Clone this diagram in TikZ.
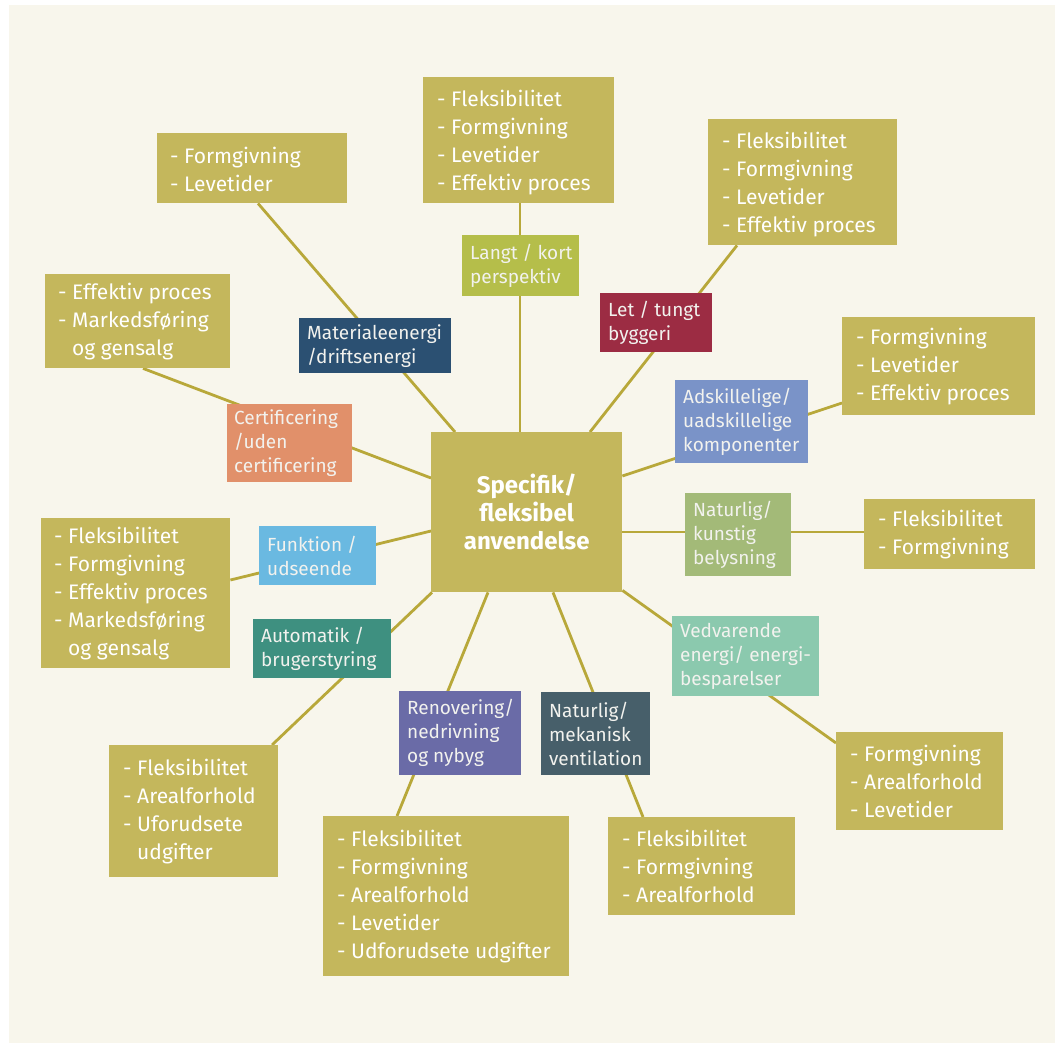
\documentclass[tikz,border=0pt]{standalone}
\usepackage{fontspec}
\setmainfont{Fira Sans}
\usetikzlibrary{backgrounds}
\definecolor{cream}{HTML}{F8F6EC}
\definecolor{olive}{HTML}{C4B75C}
\definecolor{lineol}{HTML}{B8A83A}
\definecolor{cLangt}{HTML}{B5BE4A}
\definecolor{cMat}{HTML}{2B5072}
\definecolor{cLet}{HTML}{9C2C43}
\definecolor{cAds}{HTML}{7A93C8}
\definecolor{cCert}{HTML}{E1906A}
\definecolor{cFunk}{HTML}{6AB9E1}
\definecolor{cBely}{HTML}{A3BA78}
\definecolor{cVed}{HTML}{8BC9AE}
\definecolor{cAuto}{HTML}{3E9080}
\definecolor{cReno}{HTML}{6A6BA7}
\definecolor{cVent}{HTML}{475F6A}
\definecolor{ltxt}{HTML}{F2F2EE}
\begin{document}
\begin{tikzpicture}[x=1pt,y=-1pt,
  obox/.style={fill=olive, draw=none, anchor=north west, inner sep=0pt},
  lbox/.style={draw=none, anchor=north west, inner sep=0pt},
  otxt/.style={anchor=west, align=left, text=white, inner sep=0pt, font=\fontsize{21}{28}\selectfont},
  ltx/.style={anchor=west, align=left, text=ltxt, inner sep=0pt, font=\fontsize{19}{24}\selectfont},
  conn/.style={draw=lineol, line width=2.8pt}]
\useasboundingbox (0,0) rectangle (1055,1043);

% center
\node[obox, minimum width=191pt, minimum height=160pt, font=\bfseries\fontsize{24}{28}\selectfont, text=white, align=center] (ctr) at (431,432) {Specifik/\\fleksibel\\anvendelse};

% outer boxes
\node[obox, minimum width=190pt, minimum height=70pt] (b1) at (157,133) {};
\node[otxt] (b1t) at ([xshift=13pt,yshift=-1pt]b1.west) {- Formgivning\\- Levetider};
\node[obox, minimum width=191pt, minimum height=126pt] (b2) at (423,77) {};
\node[otxt] (b2t) at ([xshift=14pt,yshift=-2pt]b2.west) {- Fleksibilitet\\- Formgivning\\- Levetider\\- Effektiv proces};
\node[obox, minimum width=189pt, minimum height=126pt] (b3) at (708,119) {};
\node[otxt] (b3t) at ([xshift=14pt,yshift=-2pt]b3.west) {- Fleksibilitet\\- Formgivning\\- Levetider\\- Effektiv proces};
\node[obox, minimum width=185pt, minimum height=94pt] (b4) at (45,274) {};
\node[otxt] (b4t) at ([xshift=13pt]b4.west) {- Effektiv proces\\- Markedsføring\\\hphantom{- }og gensalg};
\node[obox, minimum width=193pt, minimum height=98pt] (b5) at (842,317) {};
\node[otxt] (b5t) at ([xshift=14pt]b5.west) {- Formgivning\\- Levetider\\- Effektiv proces};
\node[obox, minimum width=189pt, minimum height=150pt] (b6) at (41,518) {};
\node[otxt] (b6t) at ([xshift=13pt]b6.west) {- Fleksibilitet\\- Formgivning\\- Effektiv proces\\- Markedsføring\\\hphantom{- }og gensalg};
\node[obox, minimum width=171pt, minimum height=70pt] (b7) at (864,499) {};
\node[otxt] (b7t) at ([xshift=14pt]b7.west) {- Fleksibilitet\\- Formgivning};
\node[obox, minimum width=169pt, minimum height=132pt] (b8) at (109,745) {};
\node[otxt] (b8t) at ([xshift=14pt]b8.west) {- Fleksibilitet\\- Arealforhold\\- Uforudsete\\\hphantom{- }udgifter};
\node[obox, minimum width=167pt, minimum height=98pt] (b9) at (836,732) {};
\node[otxt] (b9t) at ([xshift=14pt]b9.west) {- Formgivning\\- Arealforhold\\- Levetider};
\node[obox, minimum width=246pt, minimum height=160pt] (b10) at (323,816) {};
\node[otxt] (b10t) at ([xshift=14pt]b10.west) {- Fleksibilitet\\- Formgivning\\- Arealforhold\\- Levetider\\- Udforudsete udgifter};
\node[obox, minimum width=187pt, minimum height=98pt] (b11) at (608,817) {};
\node[otxt] (b11t) at ([xshift=14pt]b11.west) {- Fleksibilitet\\- Formgivning\\- Arealforhold};

% labels
\node[lbox, fill=cMat, minimum width=152pt, minimum height=55pt] (l1) at (299,318) {};
\node[ltx] (l1t) at ([xshift=8pt]l1.west) {Materialeenergi\\/driftsenergi};
\node[lbox, fill=cLangt, minimum width=117pt, minimum height=61pt] (l2) at (462,235) {};
\node[ltx] (l2t) at ([xshift=8pt]l2.west) {Langt / kort\\perspektiv};
\node[lbox, fill=cLet, minimum width=112pt, minimum height=59pt] (l3) at (600,293) {};
\node[ltx] (l3t) at ([xshift=8pt]l3.west) {Let / tungt\\byggeri};
\node[lbox, fill=cAds, minimum width=133pt, minimum height=83pt] (l4) at (675,380) {};
\node[ltx] (l4t) at ([xshift=8pt]l4.west) {Adskillelige/\\uadskillelige\\komponenter};
\node[lbox, fill=cCert, minimum width=125pt, minimum height=78pt] (l5) at (227,404) {};
\node[ltx] (l5t) at ([xshift=7pt]l5.west) {Certificering\\/uden\\certificering};
\node[lbox, fill=cFunk, minimum width=117pt, minimum height=59pt] (l6) at (259,526) {};
\node[ltx] (l6t) at ([xshift=8pt]l6.west) {Funktion /\\udseende};
\node[lbox, fill=cBely, minimum width=106pt, minimum height=83pt] (l7) at (685,493) {};
\node[ltx] (l7t) at ([xshift=8pt]l7.west) {Naturlig/\\kunstig\\belysning};
\node[lbox, fill=cVed, minimum width=147pt, minimum height=80pt] (l8) at (672,616) {};
\node[ltx] (l8t) at ([xshift=8pt]l8.west) {Vedvarende\\energi/ energi-\\besparelser};
\node[lbox, fill=cAuto, minimum width=138pt, minimum height=59pt] (l9) at (253,619) {};
\node[ltx] (l9t) at ([xshift=8pt]l9.west) {Automatik /\\brugerstyring};
\node[lbox, fill=cReno, minimum width=122pt, minimum height=84pt] (l10) at (399,691) {};
\node[ltx] (l10t) at ([xshift=8pt]l10.west) {Renovering/\\nedrivning\\og nybyg};
\node[lbox, fill=cVent, minimum width=109pt, minimum height=83pt] (l11) at (541,692) {};
\node[ltx] (l11t) at ([xshift=8pt]l11.west) {Naturlig/\\mekanisk\\ventilation};

\begin{pgfonlayer}{background}
\fill[cream] (9,5) rectangle (1055,1043);
\draw[conn] ([xshift=24pt]ctr.north west) -- ([xshift=101pt]b1.south west);
\draw[conn] ([xshift=89pt]ctr.north west) -- ([xshift=97pt]b2.south west);
\draw[conn] ([xshift=159pt]ctr.north west) -- ([xshift=29pt]b3.south west);
\draw[conn] ([yshift=-46pt]ctr.north west) -- ([xshift=98pt]b4.south west);
\draw[conn] ([yshift=-44pt]ctr.north east) -- ([yshift=-86pt]b5.north west);
\draw[conn] ([yshift=-99pt]ctr.north west) -- ([yshift=-62pt]b6.north east);
\draw[conn] ([yshift=-100pt]ctr.north east) -- ([yshift=-33pt]b7.north west);
\draw[conn] ([xshift=1pt]ctr.south west) -- ([xshift=163pt]b8.north west);
\draw[conn] ([xshift=57pt]ctr.south west) -- ([xshift=74pt]b10.north west);
\draw[conn] ([xshift=122pt]ctr.south west) -- ([xshift=35pt]b11.north west);
\draw[conn] ([yshift=2pt]ctr.south east) -- ([yshift=-11pt]b9.north west);
\end{pgfonlayer}
\end{tikzpicture}
\end{document}
